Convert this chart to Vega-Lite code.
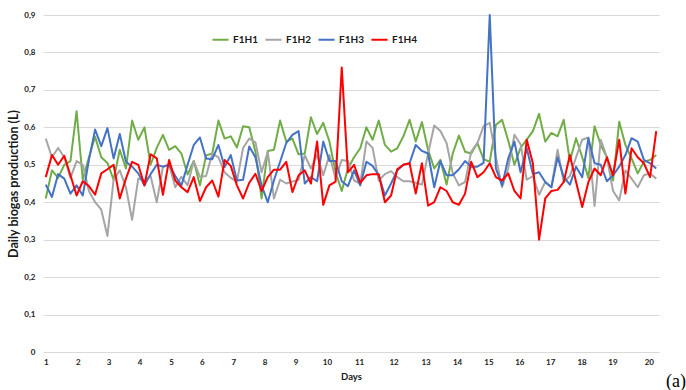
{
"$schema": "https://vega.github.io/schema/vega-lite/v6.json",
"autosize": "none",
"width": 616,
"height": 337,
"padding": {"left": 43, "top": 15, "right": 27, "bottom": 38},
"background": "white",
"config": {"view": {"stroke": null}, "font": "Lato"},
"title": {"text": "(a)", "orient": "bottom", "anchor": "end", "frame": "group", "font": "Liberation Serif", "fontSize": 18, "fontWeight": "normal", "color": "#000000", "dx": 27, "dy": -12},
"data": {"values": [
{"i":0,"F1H1":0.41,"F1H2":0.57,"F1H3":0.447,"F1H4":0.467},
{"i":1,"F1H1":0.485,"F1H2":0.52,"F1H3":0.414,"F1H4":0.526},
{"i":2,"F1H1":0.465,"F1H2":0.545,"F1H3":0.475,"F1H4":0.5},
{"i":3,"F1H1":0.5,"F1H2":0.52,"F1H3":0.463,"F1H4":0.524},
{"i":4,"F1H1":0.51,"F1H2":0.465,"F1H3":0.423,"F1H4":0.472},
{"i":5,"F1H1":0.643,"F1H2":0.51,"F1H3":0.445,"F1H4":0.418},
{"i":6,"F1H1":0.46,"F1H2":0.5,"F1H3":0.418,"F1H4":0.456},
{"i":7,"F1H1":0.52,"F1H2":0.43,"F1H3":0.513,"F1H4":0.443},
{"i":8,"F1H1":0.575,"F1H2":0.4,"F1H3":0.594,"F1H4":0.42},
{"i":9,"F1H1":0.52,"F1H2":0.38,"F1H3":0.55,"F1H4":0.477},
{"i":10,"F1H1":0.505,"F1H2":0.31,"F1H3":0.598,"F1H4":0.488},
{"i":11,"F1H1":0.46,"F1H2":0.46,"F1H3":0.517,"F1H4":0.5},
{"i":12,"F1H1":0.54,"F1H2":0.485,"F1H3":0.582,"F1H4":0.41},
{"i":13,"F1H1":0.49,"F1H2":0.44,"F1H3":0.508,"F1H4":0.463},
{"i":14,"F1H1":0.618,"F1H2":0.353,"F1H3":0.495,"F1H4":0.508},
{"i":15,"F1H1":0.567,"F1H2":0.463,"F1H3":0.477,"F1H4":0.5},
{"i":16,"F1H1":0.6,"F1H2":0.458,"F1H3":0.445,"F1H4":0.445},
{"i":17,"F1H1":0.5,"F1H2":0.47,"F1H3":0.475,"F1H4":0.528},
{"i":18,"F1H1":0.545,"F1H2":0.4,"F1H3":0.5,"F1H4":0.517},
{"i":19,"F1H1":0.58,"F1H2":0.494,"F1H3":0.495,"F1H4":0.42},
{"i":20,"F1H1":0.54,"F1H2":0.5,"F1H3":0.5,"F1H4":0.513},
{"i":21,"F1H1":0.55,"F1H2":0.44,"F1H3":0.47,"F1H4":0.458},
{"i":22,"F1H1":0.53,"F1H2":0.468,"F1H3":0.445,"F1H4":0.44},
{"i":23,"F1H1":0.474,"F1H2":0.445,"F1H3":0.5,"F1H4":0.427},
{"i":24,"F1H1":0.51,"F1H2":0.51,"F1H3":0.553,"F1H4":0.467},
{"i":25,"F1H1":0.445,"F1H2":0.468,"F1H3":0.573,"F1H4":0.403},
{"i":26,"F1H1":0.525,"F1H2":0.47,"F1H3":0.517,"F1H4":0.44},
{"i":27,"F1H1":0.53,"F1H2":0.53,"F1H3":0.515,"F1H4":0.458},
{"i":28,"F1H1":0.618,"F1H2":0.52,"F1H3":0.553,"F1H4":0.415},
{"i":29,"F1H1":0.57,"F1H2":0.48,"F1H3":0.494,"F1H4":0.513},
{"i":30,"F1H1":0.576,"F1H2":0.465,"F1H3":0.526,"F1H4":0.497},
{"i":31,"F1H1":0.546,"F1H2":0.455,"F1H3":0.458,"F1H4":0.445},
{"i":32,"F1H1":0.603,"F1H2":0.545,"F1H3":0.46,"F1H4":0.41},
{"i":33,"F1H1":0.6,"F1H2":0.57,"F1H3":0.549,"F1H4":0.452},
{"i":34,"F1H1":0.535,"F1H2":0.56,"F1H3":0.52,"F1H4":0.476},
{"i":35,"F1H1":0.41,"F1H2":0.48,"F1H3":0.445,"F1H4":0.43},
{"i":36,"F1H1":0.537,"F1H2":0.535,"F1H3":0.4,"F1H4":0.467},
{"i":37,"F1H1":0.54,"F1H2":0.41,"F1H3":0.458,"F1H4":0.487},
{"i":38,"F1H1":0.618,"F1H2":0.46,"F1H3":0.508,"F1H4":0.487},
{"i":39,"F1H1":0.562,"F1H2":0.45,"F1H3":0.558,"F1H4":0.508},
{"i":40,"F1H1":0.57,"F1H2":0.455,"F1H3":0.58,"F1H4":0.427},
{"i":41,"F1H1":0.528,"F1H2":0.46,"F1H3":0.59,"F1H4":0.472},
{"i":42,"F1H1":0.53,"F1H2":0.526,"F1H3":0.45,"F1H4":0.485},
{"i":43,"F1H1":0.627,"F1H2":0.49,"F1H3":0.467,"F1H4":0.45},
{"i":44,"F1H1":0.582,"F1H2":0.526,"F1H3":0.456,"F1H4":0.562},
{"i":45,"F1H1":0.612,"F1H2":0.472,"F1H3":0.562,"F1H4":0.393},
{"i":46,"F1H1":0.562,"F1H2":0.526,"F1H3":0.51,"F1H4":0.445},
{"i":47,"F1H1":0.48,"F1H2":0.463,"F1H3":0.51,"F1H4":0.455},
{"i":48,"F1H1":0.43,"F1H2":0.513,"F1H3":0.456,"F1H4":0.76},
{"i":49,"F1H1":0.49,"F1H2":0.51,"F1H3":0.443,"F1H4":0.48},
{"i":50,"F1H1":0.52,"F1H2":0.458,"F1H3":0.485,"F1H4":0.5},
{"i":51,"F1H1":0.544,"F1H2":0.45,"F1H3":0.445,"F1H4":0.452},
{"i":52,"F1H1":0.6,"F1H2":0.562,"F1H3":0.508,"F1H4":0.472},
{"i":53,"F1H1":0.567,"F1H2":0.545,"F1H3":0.497,"F1H4":0.475},
{"i":54,"F1H1":0.618,"F1H2":0.458,"F1H3":0.472,"F1H4":0.475},
{"i":55,"F1H1":0.553,"F1H2":0.475,"F1H3":0.418,"F1H4":0.4},
{"i":56,"F1H1":0.535,"F1H2":0.483,"F1H3":0.45,"F1H4":0.418},
{"i":57,"F1H1":0.544,"F1H2":0.467,"F1H3":0.485,"F1H4":0.488},
{"i":58,"F1H1":0.576,"F1H2":0.456,"F1H3":0.5,"F1H4":0.5},
{"i":59,"F1H1":0.62,"F1H2":0.456,"F1H3":0.504,"F1H4":0.504},
{"i":60,"F1H1":0.562,"F1H2":0.452,"F1H3":0.553,"F1H4":0.423},
{"i":61,"F1H1":0.614,"F1H2":0.447,"F1H3":0.537,"F1H4":0.504},
{"i":62,"F1H1":0.54,"F1H2":0.53,"F1H3":0.53,"F1H4":0.391},
{"i":63,"F1H1":0.49,"F1H2":0.605,"F1H3":0.44,"F1H4":0.4},
{"i":64,"F1H1":0.513,"F1H2":0.59,"F1H3":0.51,"F1H4":0.44},
{"i":65,"F1H1":0.447,"F1H2":0.558,"F1H3":0.472,"F1H4":0.43},
{"i":66,"F1H1":0.53,"F1H2":0.477,"F1H3":0.472,"F1H4":0.4},
{"i":67,"F1H1":0.578,"F1H2":0.445,"F1H3":0.488,"F1H4":0.393},
{"i":68,"F1H1":0.535,"F1H2":0.454,"F1H3":0.51,"F1H4":0.423},
{"i":69,"F1H1":0.53,"F1H2":0.535,"F1H3":0.495,"F1H4":0.508},
{"i":70,"F1H1":0.558,"F1H2":0.558,"F1H3":0.495,"F1H4":0.467},
{"i":71,"F1H1":0.515,"F1H2":0.603,"F1H3":0.505,"F1H4":0.48},
{"i":72,"F1H1":0.508,"F1H2":0.612,"F1H3":0.9,"F1H4":0.504},
{"i":73,"F1H1":0.607,"F1H2":0.52,"F1H3":0.49,"F1H4":0.467},
{"i":74,"F1H1":0.62,"F1H2":0.44,"F1H3":0.445,"F1H4":0.458},
{"i":75,"F1H1":0.565,"F1H2":0.49,"F1H3":0.517,"F1H4":0.477},
{"i":76,"F1H1":0.5,"F1H2":0.58,"F1H3":0.562,"F1H4":0.43},
{"i":77,"F1H1":0.545,"F1H2":0.555,"F1H3":0.48,"F1H4":0.41},
{"i":78,"F1H1":0.567,"F1H2":0.46,"F1H3":0.544,"F1H4":0.567},
{"i":79,"F1H1":0.59,"F1H2":0.47,"F1H3":0.475,"F1H4":0.504},
{"i":80,"F1H1":0.636,"F1H2":0.42,"F1H3":0.48,"F1H4":0.3},
{"i":81,"F1H1":0.562,"F1H2":0.454,"F1H3":0.454,"F1H4":0.41},
{"i":82,"F1H1":0.585,"F1H2":0.44,"F1H3":0.44,"F1H4":0.43},
{"i":83,"F1H1":0.576,"F1H2":0.54,"F1H3":0.52,"F1H4":0.433},
{"i":84,"F1H1":0.62,"F1H2":0.454,"F1H3":0.467,"F1H4":0.454},
{"i":85,"F1H1":0.51,"F1H2":0.47,"F1H3":0.447,"F1H4":0.526},
{"i":86,"F1H1":0.571,"F1H2":0.52,"F1H3":0.495,"F1H4":0.454},
{"i":87,"F1H1":0.52,"F1H2":0.567,"F1H3":0.467,"F1H4":0.387},
{"i":88,"F1H1":0.465,"F1H2":0.573,"F1H3":0.571,"F1H4":0.454},
{"i":89,"F1H1":0.603,"F1H2":0.39,"F1H3":0.504,"F1H4":0.49},
{"i":90,"F1H1":0.553,"F1H2":0.567,"F1H3":0.5,"F1H4":0.472},
{"i":91,"F1H1":0.52,"F1H2":0.52,"F1H3":0.456,"F1H4":0.52},
{"i":92,"F1H1":0.458,"F1H2":0.43,"F1H3":0.472,"F1H4":0.472},
{"i":93,"F1H1":0.615,"F1H2":0.405,"F1H3":0.495,"F1H4":0.567},
{"i":94,"F1H1":0.553,"F1H2":0.485,"F1H3":0.526,"F1H4":0.423},
{"i":95,"F1H1":0.517,"F1H2":0.463,"F1H3":0.571,"F1H4":0.544},
{"i":96,"F1H1":0.477,"F1H2":0.44,"F1H3":0.562,"F1H4":0.52},
{"i":97,"F1H1":0.508,"F1H2":0.472,"F1H3":0.513,"F1H4":0.504},
{"i":98,"F1H1":0.513,"F1H2":0.477,"F1H3":0.504,"F1H4":0.467},
{"i":99,"F1H1":0.526,"F1H2":0.463,"F1H3":0.49,"F1H4":0.59}
]},
"transform": [{"fold": ["F1H1", "F1H2", "F1H3", "F1H4"], "as": ["series", "value"]}],
"mark": {"type": "line", "strokeWidth": 2, "strokeJoin": "round"},
"encoding": {
  "x": {"field": "i", "type": "quantitative",
    "scale": {"domain": [-0.45, 99.45], "nice": false, "zero": false},
    "axis": {"values": [0,5.2,10.2,15.2,20.3,25.3,30.4,35.5,40.5,45.6,50.8,56.4,61.6,66.7,71.8,76.8,81.8,86.9,91.9,97.8],
      "labelExpr": "indexof([0,5.2,10.2,15.2,20.3,25.3,30.4,35.5,40.5,45.6,50.8,56.4,61.6,66.7,71.8,76.8,81.8,86.9,91.9,97.8], datum.value) + 1",
      "grid": false, "domain": false, "ticks": false,
      "labelFont": "Lato", "labelFontWeight": "bold", "labelFontSize": 8, "labelColor": "#1a1a1a", "labelPadding": 6,
      "title": "Days", "titleFont": "Lato", "titleFontSize": 9.5, "titleFontWeight": "bold", "titleColor": "#1a1a1a", "titlePadding": 5}},
  "y": {"field": "value", "type": "quantitative",
    "scale": {"domain": [0, 0.9], "nice": false},
    "axis": {"values": [0,0.1,0.2,0.3,0.4,0.5,0.6,0.7,0.8,0.9],
      "labelExpr": "datum.value == 0 ? '0' : replace(format(datum.value, '.1f'), '.', ',')",
      "grid": true, "gridColor": "#D9D9D9", "gridWidth": 1, "domain": false, "ticks": false,
      "labelFont": "Lato", "labelFontWeight": "bold", "labelFontSize": 8, "labelColor": "#1a1a1a", "labelPadding": 8,
      "title": "Daily biogas production (L)", "titleFont": "Lato", "titleFontSize": 12.5, "titleFontWeight": "bold", "titleColor": "#1a1a1a", "titlePadding": 3}},
  "color": {"field": "series", "type": "nominal",
    "scale": {"domain": ["F1H1", "F1H2", "F1H3", "F1H4"], "range": ["#70AD47", "#A5A5A5", "#4472C4", "#FF0000"]},
    "legend": {"orient": "none", "legendX": 168, "legendY": 15, "direction": "horizontal", "title": null,
      "symbolType": "stroke", "symbolStrokeWidth": 2, "symbolSize": 260,
      "labelFont": "Lato", "labelFontWeight": "bold", "labelFontSize": 10, "labelColor": "#1a1a1a",
      "labelOffset": 3, "columnPadding": 3, "padding": 0}}
}
}
